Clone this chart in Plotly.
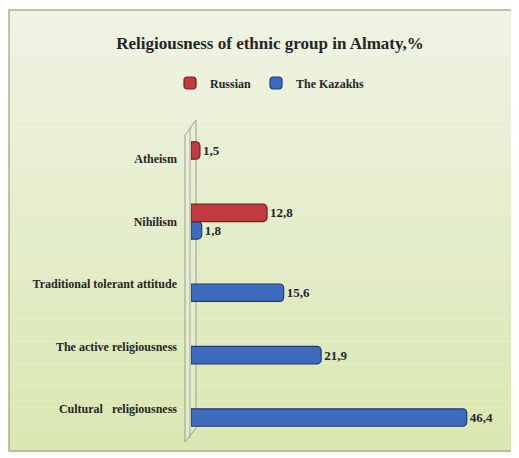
import plotly.graph_objects as go

categories = ["Cultural\u00a0\u00a0 religiousness", "The active religiousness", "Traditional tolerant attitude", "Nihilism", "Atheism"]
russian = [None, None, None, 12.8, 1.5]
kazakhs = [46.4, 21.9, 15.6, 1.8, None]
series_names = ["Russian", "The Kazakhs"]
title_text = "Religiousness of ethnic group in Almaty,%"

# page has an 8px body margin; work in page pixel coordinates and convert
OFF = 8
W, H = 519 - OFF, 458 - OFF
PL, PR, PT, PB = 191, 500, 128, 440   # plot area in page pixels
ML, MR, MT, MB = PL - OFF, W - (PR - OFF), PT - OFF, H - (PB - OFF)
PW = PR - PL
PH = PB - PT


def px(x):
    return (x - PL) / PW


def py(y):
    return (PB - y) / PH


def fmt(vals):
    return [None if v is None else f"{v:.1f}".replace(".", ",") for v in vals]


FONT = "Liberation Serif, Times New Roman, serif"
TXT = "#262626"

fig = go.Figure()
fig.add_trace(go.Bar(
    y=categories, x=kazakhs, orientation="h", name=series_names[1],
    marker=dict(color="#3d6cbf", line=dict(color="#1e3c72", width=1.2), cornerradius=4),
    text=fmt(kazakhs), textposition="outside", cliponaxis=False,
    textfont=dict(family=FONT, size=13, color=TXT, weight="bold"),
))
fig.add_trace(go.Bar(
    y=categories, x=russian, orientation="h", name=series_names[0],
    marker=dict(color="#c23b3e", line=dict(color="#741c20", width=1.2), cornerradius=4),
    text=fmt(russian), textposition="outside", cliponaxis=False,
    textfont=dict(family=FONT, size=13, color=TXT, weight="bold"),
))

shapes = []
# background gradient bands
top = (239, 243, 227)
bot = (219, 231, 178)
n = 20
y0p, y1p = 10, 452
for i in range(n):
    t = i / (n - 1)
    c = tuple(int(round(top[k] + (bot[k] - top[k]) * t)) for k in range(3))
    ya = y0p + (y1p - y0p) * i / n
    yb = y0p + (y1p - y0p) * (i + 1) / n
    shapes.append(dict(type="rect", xref="paper", yref="paper", layer="below",
                       x0=px(9), x1=px(530), y0=py(yb), y1=py(ya),
                       fillcolor=f"rgb{c}", line=dict(width=0)))
# border
shapes.append(dict(type="rect", xref="paper", yref="paper", layer="below",
                   x0=px(9), x1=px(530), y0=py(451), y1=py(10),
                   line=dict(color="#a7b78a", width=1.5)))
# 3D wall
pts = [(185, 135), (196, 120), (196, 428), (185, 442)]
path = "M " + " L ".join(f"{px(a)},{py(b)}" for a, b in pts) + " Z"
shapes.append(dict(type="path", xref="paper", yref="paper", path=path, layer="below",
                   line=dict(color="#999e90", width=1), fillcolor="rgba(232,238,218,0.5)"))
shapes.append(dict(type="line", xref="paper", yref="paper",
                   x0=px(190), x1=px(190), y0=py(438), y1=py(128),
                   line=dict(color="#a3a89a", width=1)))

fig.update_layout(
    width=W, height=H,
    margin=dict(l=ML, r=MR, t=MT, b=MB, autoexpand=False),
    paper_bgcolor="white", plot_bgcolor="rgba(0,0,0,0)",
    barmode="group", bargap=0.44, bargroupgap=0.0,
    title=dict(text=title_text, x=(270 - OFF) / W, xref="container", xanchor="center",
               y=1 - (43 - OFF) / H, yref="container", yanchor="middle",
               font=dict(family=FONT, size=17, color=TXT, weight="bold")),
    legend=dict(orientation="h", x=px(270), y=py(83), xanchor="center", yanchor="middle",
                traceorder="reversed", bgcolor="rgba(0,0,0,0)",
                font=dict(family=FONT, size=12, color=TXT, weight="bold"),
                itemwidth=30),
    xaxis=dict(range=[0, 52], showticklabels=False, showgrid=False, zeroline=False,
               showline=False, fixedrange=True),
    yaxis=dict(showgrid=False, zeroline=False, showline=False, ticks="",
               ticklabelstandoff=13, categoryorder="array", categoryarray=categories,
               tickfont=dict(family=FONT, size=12, color=TXT, weight="bold")),
    shapes=shapes,
    showlegend=True,
)

fig.write_html("out.html")
